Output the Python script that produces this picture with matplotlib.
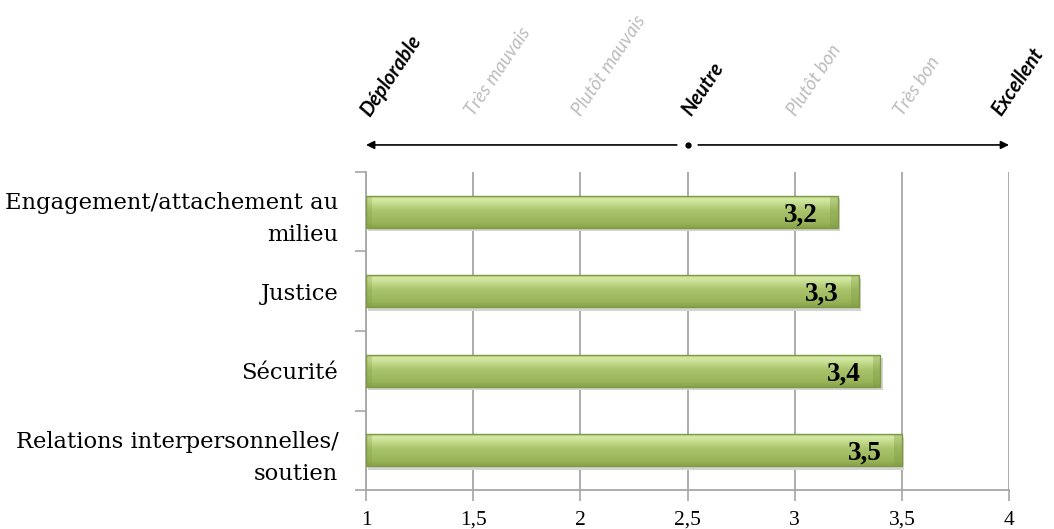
import matplotlib

matplotlib.use("Agg")
import matplotlib.pyplot as plt
import numpy as np
from matplotlib.colors import LinearSegmentedColormap

CATEGORIES = [
    "Engagement/attachement au\nmilieu",
    "Justice",
    "Sécurité",
    "Relations interpersonnelles/\nsoutien",
]
SCORES = [3.2, 3.3, 3.4, 3.5]
SCORE_LABELS = ["3,2", "3,3", "3,4", "3,5"]

X_TICKS = [1, 1.5, 2, 2.5, 3, 3.5, 4]
X_TICK_LABELS = ["1", "1,5", "2", "2,5", "3", "3,5", "4"]

SCALE_LABELS = [
    "Déplorable",
    "Très mauvais",
    "Plutôt mauvais",
    "Neutre",
    "Plutôt bon",
    "Très bon",
    "Excellent",
]
SCALE_MAJOR = [True, False, False, True, False, False, True]
# small horizontal nudges (data units) so the rotated labels sit like the original
SCALE_NUDGE = [0.02, 0.005, 0.005, 0.015, 0.005, 0.005, -0.035]

BAR_EDGE = "#7f9a44"
GRID_COLOR = "#a6a6a6"
SERIF = "DejaVu Serif"
NUM_FONT = "Liberation Serif"
SCALE_FONT = ["Lato", "DejaVu Sans"]

# vertical shading of a bar, bottom -> top
bar_cmap = LinearSegmentedColormap.from_list(
    "bevel",
    [
        (0.0, "#87a24a"),
        (0.15, "#98b458"),
        (0.55, "#a9c46c"),
        (0.8, "#c8df93"),
        (0.92, "#d6eaa6"),
        (1.0, "#b3cd7b"),
    ],
)

fig = plt.figure(figsize=(10.54, 5.29), dpi=100)
ax = fig.add_axes([0.3473, 0.0737, 0.61, 0.6012])

y_pos = np.arange(len(CATEGORIES))[::-1]
bar_h = 0.4
grad = np.linspace(0, 1, 64).reshape(-1, 1)

# soft shadow under each bar
ax.barh(y_pos - 0.045, np.array(SCORES) - 1, left=1.01, height=bar_h,
        color="#d4d4d4", zorder=2)
for y, val in zip(y_pos, SCORES):
    ax.imshow(grad, cmap=bar_cmap, origin="lower", aspect="auto",
              extent=[1, val, y - bar_h / 2, y + bar_h / 2], zorder=3)
# darker bevel at both ends
ax.barh(y_pos, 0.035, left=np.array(SCORES) - 0.035, height=bar_h,
        color="#7d9a40", alpha=0.35, linewidth=0, zorder=3.5)
ax.barh(y_pos, 0.03, left=1, height=bar_h,
        color="#7d9a40", alpha=0.25, linewidth=0, zorder=3.5)
ax.barh(y_pos, np.array(SCORES) - 1, left=1, height=bar_h,
        facecolor="none", edgecolor=BAR_EDGE, linewidth=1.0, zorder=4)

for y, val, lab in zip(y_pos, SCORES, SCORE_LABELS):
    ax.text(val - 0.093, y - 0.04, lab, ha="right", va="center",
            fontsize=19.5, fontweight="bold", family=NUM_FONT, zorder=5)

ax.set_xlim(1, 4)
ax.set_ylim(-0.5, len(CATEGORIES) - 0.5)

ax.set_xticks(X_TICKS)
ax.set_xticklabels(X_TICK_LABELS, family=NUM_FONT, fontsize=15.5)
ax.set_yticks(np.arange(len(CATEGORIES) + 1) - 0.5)
ax.set_yticklabels([])
ax.set_yticks(y_pos, minor=True)
ax.set_yticklabels(CATEGORIES, minor=True, family=SERIF, fontsize=16.3,
                   ha="right", linespacing=1.6)
ax.tick_params(axis="y", which="minor", length=0, pad=20)
ax.tick_params(axis="y", which="major", length=8, color=GRID_COLOR, width=1.2)
ax.tick_params(axis="x", length=8, color=GRID_COLOR, width=1.2, pad=7)

ax.grid(axis="x", color=GRID_COLOR, linewidth=1.3, zorder=0)
ax.set_axisbelow(True)
for side in ["top", "right"]:
    ax.spines[side].set_visible(False)
for side in ["left", "bottom"]:
    ax.spines[side].set_color(GRID_COLOR)
    ax.spines[side].set_linewidth(1.3)

# scale arrow above the plot
trans = ax.get_xaxis_transform()
arrow_y = 1.085
arrow_style = dict(arrowstyle="-|>", color="black", lw=1.2,
                   mutation_scale=12, shrinkA=0, shrinkB=0)
ax.annotate("", xy=(1.0, arrow_y), xytext=(2.45, arrow_y), xycoords=trans,
            textcoords=trans, arrowprops=arrow_style)
ax.annotate("", xy=(4.0, arrow_y), xytext=(2.55, arrow_y), xycoords=trans,
            textcoords=trans, arrowprops=arrow_style)
ax.plot([2.5], [arrow_y], "o", color="black", markersize=3.5,
        transform=trans, clip_on=False)

for x, lab, major, nudge in zip(X_TICKS, SCALE_LABELS, SCALE_MAJOR, SCALE_NUDGE):
    style = dict(transform=trans, rotation=56, rotation_mode="anchor",
                 ha="left", va="baseline", style="italic", family=SCALE_FONT,
                 clip_on=False)
    if major:
        ax.text(x + nudge, 1.172, lab, fontsize=14.5, fontweight="bold",
                color="black", **style)
    else:
        ax.text(x + nudge, 1.172, lab, fontsize=13.5, color="#bdbdbd", **style)

fig.savefig("out.png", dpi=100)
